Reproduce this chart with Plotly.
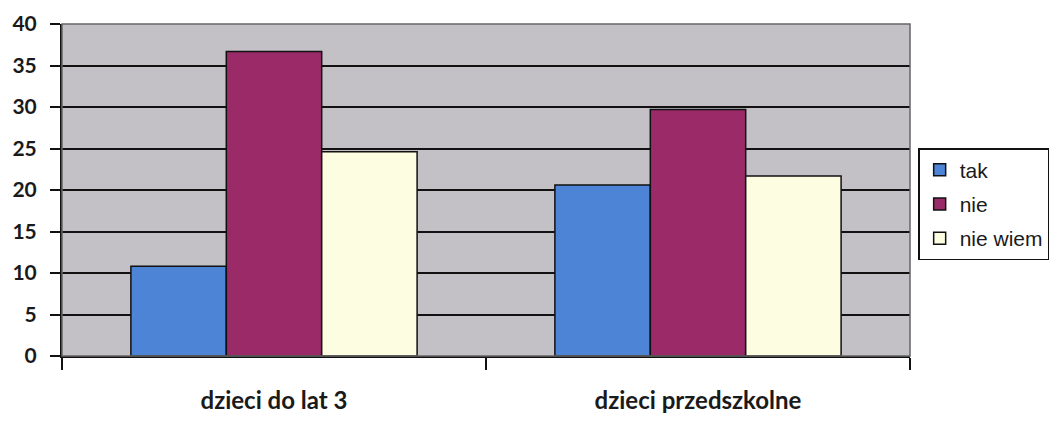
import plotly.graph_objects as go

categories = ["dzieci do lat 3", "dzieci przedszkolne"]
series_names = ["tak", "nie", "nie wiem"]
tak = [10.8, 20.6]
nie = [36.7, 29.7]
nie_wiem = [24.6, 21.7]
y_ticks = [0, 5, 10, 15, 20, 25, 30, 35, 40]

colors = ["#4d84d6", "#9a2b68", "#fdfde2"]
values = [tak, nie, nie_wiem]

fig = go.Figure()
for name, vals, col in zip(series_names, values, colors):
    fig.add_trace(go.Bar(
        x=categories, y=vals, name=name, legendgroup=name,
        marker=dict(color=col, line=dict(color="#111111", width=1.5)),
    ))

fig.update_layout(
    width=1051, height=413,
    margin=dict(l=54, r=149, t=16, b=65),
    paper_bgcolor="white",
    plot_bgcolor="#c3c1c6",
    barmode="group",
    bargap=0.325,
    bargroupgap=0,
    font=dict(family="Lato, Liberation Sans, sans-serif", color="#1a1a1a"),
    legend=dict(
        xref="container", yref="container",
        x=0.866, y=0.661, xanchor="left", yanchor="top",
        bordercolor="#111111", borderwidth=1.5, bgcolor="white",
        font=dict(family="Liberation Sans, Arial, sans-serif", size=21, color="#1a1a1a"),
        itemwidth=30, tracegroupgap=4,
    ),
    showlegend=True,
)

fig.update_yaxes(
    range=[0, 40], tickvals=y_ticks, ticktext=[str(v) for v in y_ticks],
    showgrid=True, gridcolor="#111111", gridwidth=2,
    showline=True, linecolor="#111111", linewidth=2,
    ticks="outside", ticklen=10, tickcolor="#111111", tickwidth=2,
    tickfont=dict(family="Lato, sans-serif", size=21, color="#1a1a1a", weight="bold"),
    ticklabelstandoff=9,
    zeroline=False, automargin=False,
)
fig.update_xaxes(
    showline=True, linecolor="#111111", linewidth=2,
    ticks="outside", ticklen=12, tickcolor="#111111", tickwidth=2,
    tickson="boundaries",
    tickfont=dict(family="Lato, sans-serif", size=24, color="#1a1a1a", weight="bold"),
    ticklabelstandoff=22, automargin=False,
)

fig.add_shape(type="rect", xref="paper", yref="paper", x0=0, x1=1, y0=0, y1=1,
              line=dict(color="#666666", width=1.5), fillcolor="rgba(0,0,0,0)", layer="above")

fig.write_html("out.html")
